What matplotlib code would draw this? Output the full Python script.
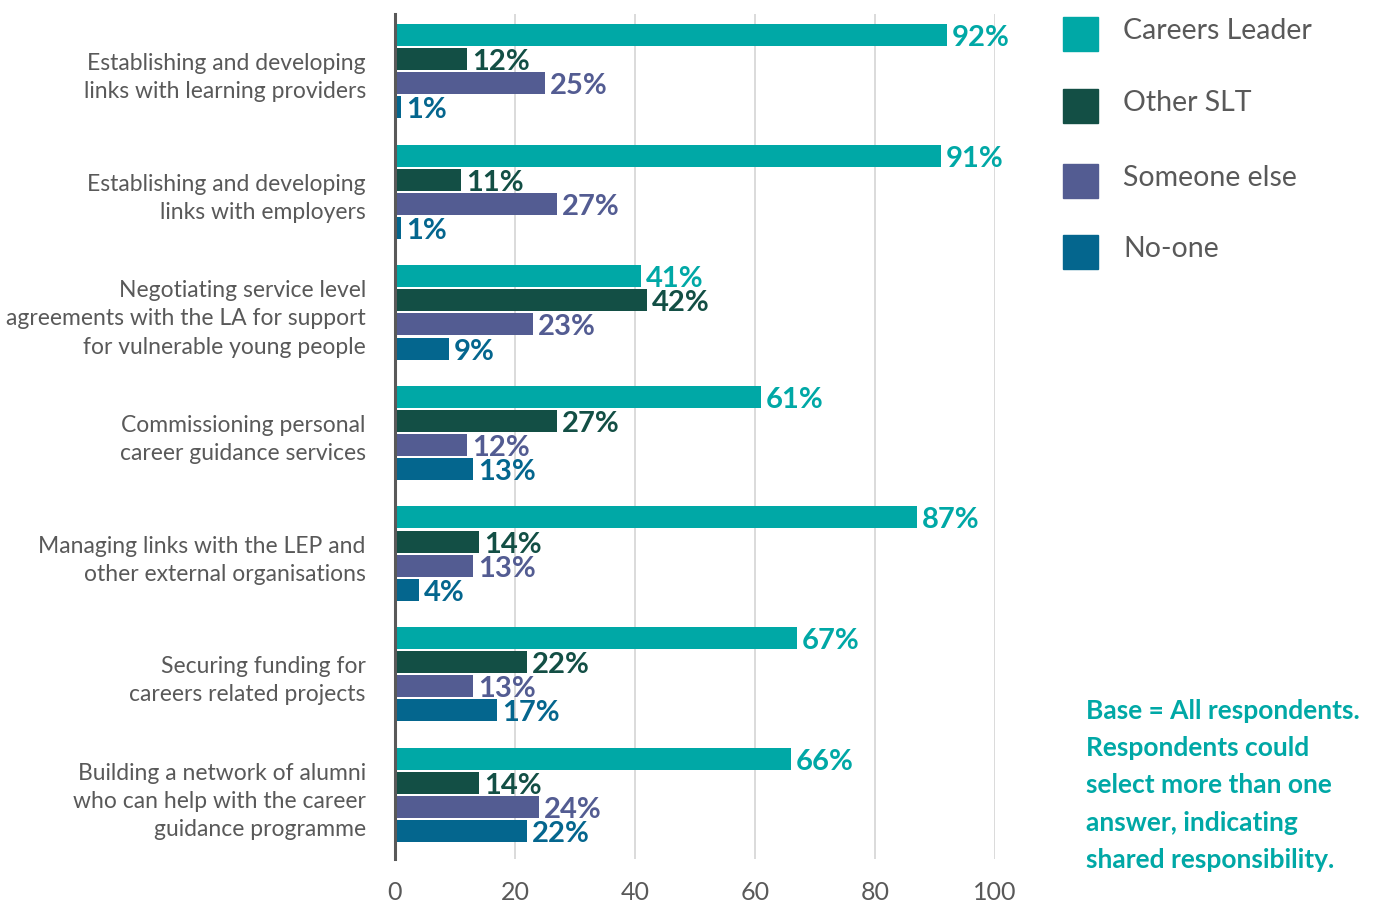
import numpy as np
import matplotlib.pyplot as plt
from matplotlib.patches import Rectangle

plt.rcParams["font.family"] = ["Lato", "DejaVu Sans"]

CATEGORIES = [
    "Establishing and developing\nlinks with learning providers",
    "Establishing and developing\nlinks with employers",
    "Negotiating service level\nagreements with the LA for support\nfor vulnerable young people",
    "Commissioning personal\ncareer guidance services",
    "Managing links with the LEP and\nother external organisations",
    "Securing funding for\ncareers related projects",
    "Building a network of alumni\nwho can help with the career\nguidance programme",
]
SERIES = ["Careers Leader", "Other SLT", "Someone else", "No-one"]
careers_leader = [92, 91, 41, 61, 87, 67, 66]
other_slt = [12, 11, 42, 27, 14, 22, 14]
someone_else = [25, 27, 23, 12, 13, 13, 24]
no_one = [1, 1, 9, 13, 4, 17, 22]
X_TICKS = [0, 20, 40, 60, 80, 100]
NOTE = ("Base = All respondents.\nRespondents could\nselect more than one\n"
        "answer, indicating\nshared responsibility.")

COLORS = ["#00A8A6", "#134F45", "#535C92", "#04668E"]
GREY = "#595959"

values = [careers_leader, other_slt, someone_else, no_one]

W, H = 1381, 904
fig = plt.figure(figsize=(W / 100, H / 100), dpi=100)
ax = fig.add_axes([395 / W, 1 - 860 / H, 600 / W, 845 / H])

group_step = 5
unit = (832 - 36) / (6 * group_step + 3)   # pixels per bar step

for j, (name, vals, col) in enumerate(zip(SERIES, values, COLORS)):
    y = np.arange(len(CATEGORIES)) * group_step + j
    ax.barh(y, vals, height=22 / unit, color=col, zorder=3)
    # value labels sit a couple of pixels below the bar centre
    for yi, v in zip(y, vals):
        ax.text(v + 0.8, yi + 2 / unit, f"{v}%", color=col, fontsize=21,
                fontweight="bold", va="center", ha="left", zorder=4)

ax.set_xlim(0, 100)
ax.set_ylim((860 - 36) / unit, -(36 - 15) / unit)

ax.set_xticks(X_TICKS)
ax.set_xticklabels([str(t) for t in X_TICKS], fontsize=18, color=GREY)
centers = np.arange(len(CATEGORIES)) * group_step + 1.5
ax.set_yticks(centers)
ax.set_yticklabels(CATEGORIES, fontsize=16.5, color=GREY, linespacing=1.42)
ax.tick_params(axis="both", length=0)
ax.tick_params(axis="y", pad=21)
ax.tick_params(axis="x", pad=15)

ax.grid(axis="x", color="#D4D4D4", linewidth=1.2, zorder=0)
for s in ["top", "right", "bottom"]:
    ax.spines[s].set_visible(False)
ax.spines["left"].set_color(GREY)
ax.spines["left"].set_linewidth(2.2)
ax.spines["left"].set_zorder(5)

# legend drawn by hand to match the spacing
legend_tops = [18, 90, 165, 236]
for name, col, top in zip(SERIES, COLORS, legend_tops):
    fig.add_artist(Rectangle((1063 / W, 1 - (top + 34) / H), 35 / W, 34 / H,
                             transform=fig.transFigure, color=col))
    fig.text(1123 / W, 1 - (top + 13) / H, name, fontsize=20.5, color=GREY,
             va="center", ha="left")

fig.text(1086 / W, 1 - 699 / H, NOTE, fontsize=19, fontweight="bold",
         color=COLORS[0], va="top", ha="left", linespacing=1.66)

fig.savefig("out.png", dpi=100)
